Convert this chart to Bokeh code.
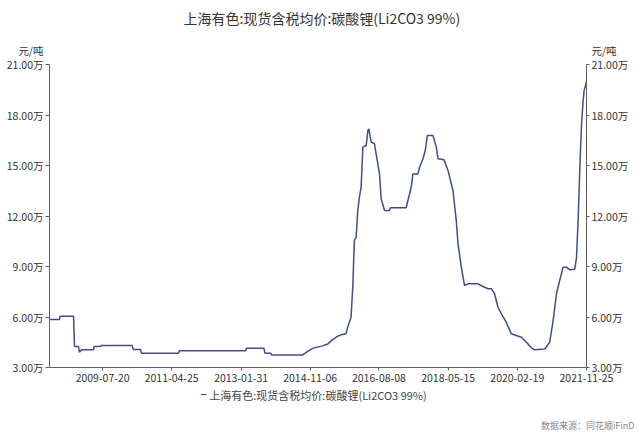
import pandas as pd
from bokeh.plotting import figure
from bokeh.models import (Range1d, LinearAxis, FixedTicker, PrintfTickFormatter,
                          DatetimeTickFormatter, ColumnDataSource, Title)
from bokeh.embed import file_html
from bokeh.resources import INLINE

TITLE = "上海有色:现货含税均价:碳酸锂(Li2CO3 99%)"
UNIT = "元/吨"
SOURCE = "数据来源：同花顺iFinD"

# price in 万元/吨
dates = [
    "2008-03-12", "2008-06-13", "2008-06-18", "2008-10-22", "2008-10-31", "2008-12-07",
    "2008-12-16", "2009-01-05", "2009-04-27", "2009-05-02", "2009-07-01", "2009-07-06",
    "2010-04-23", "2010-05-01", "2010-07-09", "2010-07-18", "2011-06-29", "2011-07-04",
    "2013-03-17", "2013-03-21", "2013-09-01", "2013-09-10", "2013-11-05", "2013-11-10",
    "2014-08-28", "2014-10-18", "2014-12-05", "2015-02-20", "2015-04-20", "2015-06-01",
    "2015-07-15", "2015-08-20", "2015-10-06", "2015-10-22", "2015-11-22", "2015-12-08",
    "2015-12-23", "2016-01-08", "2016-01-24", "2016-02-08", "2016-02-24", "2016-03-11",
    "2016-04-11", "2016-04-27", "2016-05-06", "2016-05-28", "2016-06-27", "2016-07-13",
    "2016-08-13", "2016-08-29", "2016-09-29", "2016-11-14", "2016-11-24", "2017-04-19",
    "2017-05-05", "2017-06-05", "2017-06-21", "2017-08-07", "2017-08-22", "2017-09-23",
    "2017-10-14", "2017-11-02", "2017-12-25", "2018-01-25", "2018-02-10", "2018-04-06",
    "2018-05-14", "2018-06-29", "2018-07-30", "2018-08-15", "2018-09-15", "2018-10-15",
    "2018-11-16", "2019-02-18", "2019-04-05", "2019-05-22", "2019-06-22", "2019-07-22",
    "2019-08-23", "2019-09-23", "2019-11-08", "2019-12-25", "2020-02-10", "2020-03-28",
    "2020-05-14", "2020-06-29", "2020-07-30", "2020-11-01", "2020-12-17", "2021-01-18",
    "2021-02-18", "2021-03-20", "2021-04-21", "2021-05-22", "2021-06-22", "2021-08-08",
    "2021-08-24", "2021-09-09", "2021-09-24", "2021-10-10", "2021-10-25", "2021-11-03",
    "2021-11-16", "2021-11-25",
]
values = [
    5.85, 5.85, 6.05, 6.05, 4.25, 4.25,
    3.91, 4.05, 4.05, 4.25, 4.25, 4.30,
    4.30, 4.07, 4.07, 3.85, 3.85, 4.00,
    4.00, 4.15, 4.15, 3.85, 3.85, 3.75,
    3.75, 3.97, 4.15, 4.27, 4.40, 4.64,
    4.84, 4.94, 5.00, 5.40, 5.99, 7.77,
    10.55, 10.70, 12.33, 13.12, 13.71, 16.09,
    16.19, 17.08, 17.18, 16.39, 16.29, 15.69,
    14.50, 13.02, 12.33, 12.33, 12.49, 12.49,
    12.92, 13.71, 14.50, 14.50, 14.90, 15.40,
    15.89, 16.78, 16.78, 16.09, 15.40, 15.34,
    14.70, 13.52, 11.73, 10.35, 8.96, 7.87,
    7.97, 7.97, 7.81, 7.68, 7.68, 7.38,
    6.58, 6.19, 5.69, 5.00, 4.90, 4.80,
    4.50, 4.17, 4.05, 4.10, 4.50, 5.79,
    7.38, 8.17, 8.96, 8.96, 8.80, 8.84,
    9.55, 11.93, 14.90, 17.50, 18.86, 19.46,
    19.76, 20.00,
]
x_ticks = ["2009-07-20", "2011-04-25", "2013-01-31", "2014-11-06",
           "2016-08-08", "2018-05-15", "2020-02-19", "2021-11-25"]
y_ticks = [3, 6, 9, 12, 15, 18, 21]

FONT = "Noto Sans CJK SC"
LINE_COLOR = "#3f4c8e"
AXIS_COLOR = "#606060"
TEXT_COLOR = "#333333"

d = pd.to_datetime(dates)
src = ColumnDataSource(dict(x=d, y=values))
x0_ms = d[0].value // 10**6
x1_ms = d[-1].value // 10**6

p = figure(width=640, height=434, output_backend="svg", toolbar_location=None,
           x_axis_type="datetime",
           x_range=Range1d(d[0], d[-1]), y_range=Range1d(y_ticks[0], y_ticks[-1]),
           min_border_left=49, min_border_right=54, min_border_top=64, min_border_bottom=67,
           y_axis_location=None)
p.outline_line_color = None
p.grid.visible = False

r = p.line("x", "y", source=src, line_color=LINE_COLOR, line_width=1.5)

tick_ms = [pd.Timestamp(t).value // 10**6 for t in x_ticks]
fmt = "%Y-%m-%d"
xa = p.xaxis[0]
xa.ticker = FixedTicker(ticks=tick_ms)
xa.formatter = DatetimeTickFormatter(days=fmt, months=fmt, years=fmt, hours=fmt, minutes=fmt,
                                     seconds=fmt, milliseconds=fmt, minsec=fmt, hourmin=fmt)
xa.axis_line_color = AXIS_COLOR
xa.major_tick_line_color = AXIS_COLOR
xa.minor_tick_line_color = None
xa.major_tick_in = 0
xa.major_tick_out = 3
xa.major_label_standoff = 3
xa.major_label_text_font = FONT
xa.major_label_text_font_size = "10.5px"
xa.major_label_text_color = TEXT_COLOR

for side, std, tout in (("left", 2, 4), ("right", 2, 3)):
    ax = LinearAxis(ticker=FixedTicker(ticks=y_ticks),
                    formatter=PrintfTickFormatter(format="%.2f万"))
    top = y_ticks[-1]
    ax.major_label_overrides = {top: f"{UNIT}\n{top:.2f}万\n "}
    ax.axis_line_color = AXIS_COLOR
    ax.major_tick_line_color = AXIS_COLOR
    ax.minor_tick_line_color = None
    ax.major_tick_in = 0
    ax.major_tick_out = tout
    ax.major_label_standoff = std
    ax.major_label_text_font = FONT
    ax.major_label_text_font_size = "10.5px"
    ax.major_label_text_color = TEXT_COLOR
    ax.major_label_text_line_height = 0.95
    p.add_layout(ax, side)

# legend row below the date axis: blue dash marker + series name
dash_pos = x0_ms + (x1_ms - x0_ms) * 0.287
leg = LinearAxis(ticker=FixedTicker(ticks=[dash_pos]))
leg.major_label_overrides = {dash_pos: "\u2013"}
leg.axis_line_color = None
leg.major_tick_line_color = None
leg.minor_tick_line_color = None
leg.major_tick_out = 0
leg.major_tick_in = 0
leg.major_label_standoff = -1
leg.major_label_text_font = FONT
leg.major_label_text_font_size = "12px"
leg.major_label_text_font_style = "bold"
leg.major_label_text_color = LINE_COLOR
leg.axis_label = TITLE
leg.axis_label_standoff = -17
leg.axis_label_text_font = FONT
leg.axis_label_text_font_size = "11px"
leg.axis_label_text_font_style = "normal"
leg.axis_label_text_color = "#444444"
p.add_layout(leg, "below")

# spacer, then source note at the bottom right
p.add_layout(Title(text=" ", text_font_size="1px", standoff=8), "below")
p.add_layout(Title(text=SOURCE, align="right", offset=-48, text_font=FONT,
                   text_font_size="9px", text_font_style="normal",
                   text_color="#888888", standoff=1), "below")

# spacer, then main title at the top
p.add_layout(Title(text=" ", text_font_size="1px", standoff=33), "above")
p.add_layout(Title(text=TITLE, align="left", offset=134, text_font=FONT,
                   text_font_size="14px", text_font_style="normal",
                   text_color=TEXT_COLOR, standoff=2), "above")

open("out.html", "w").write(file_html(p, INLINE))
